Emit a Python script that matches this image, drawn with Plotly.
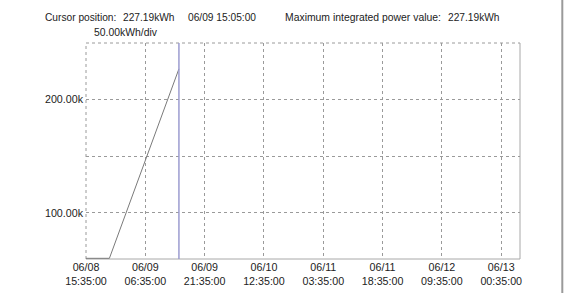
import plotly.graph_objects as go
import pandas as pd

# ---- data ----
times = ["2021-06-08 15:35:00", "2021-06-08 21:30:00", "2021-06-09 15:05:00"]
energy_kwh = [60000, 60000, 227190]
cursor_time = "2021-06-09 15:05:00"

tick_times = ["2021-06-08 15:35:00", "2021-06-09 06:35:00", "2021-06-09 21:35:00",
              "2021-06-10 12:35:00", "2021-06-11 03:35:00", "2021-06-11 18:35:00",
              "2021-06-12 09:35:00", "2021-06-13 00:35:00"]
tick_labels = ["06/08<br>15:35:00", "06/09<br>06:35:00", "06/09<br>21:35:00",
               "06/10<br>12:35:00", "06/11<br>03:35:00", "06/11<br>18:35:00",
               "06/12<br>09:35:00", "06/13<br>00:35:00"]
y_ticks = [100000, 150000, 200000]
y_tick_labels = ["100.00k", "", "200.00k"]
x_range = ["2021-06-08 15:35:00", "2021-06-13 05:20:00"]
y_range = [59400, 250000]

W, H = 565, 293
L, R, T, B = 86, 45, 43, 34
PW, PH = W - L - R, H - T - B

def px(x):
    return (x - L) / PW

def py(y):
    return (H - B - y) / PH

FONT = "Liberation Sans, Arial, sans-serif"
GRID = "#9a9a9a"
TXT = "#222"

fig = go.Figure()
fig.add_trace(go.Scatter(x=pd.to_datetime(times), y=energy_kwh, mode="lines",
                         line=dict(color="#7a7a7a", width=1), hoverinfo="skip",
                         showlegend=False, cliponaxis=False))

fig.update_xaxes(type="date", range=x_range, tickvals=tick_times, ticktext=tick_labels,
                 showgrid=True, gridcolor=GRID, griddash="3px,3px", gridwidth=1,
                 zeroline=False, showline=False, ticks="", automargin=False,
                 tickfont=dict(family=FONT, size=10.7, color=TXT))
fig.update_yaxes(range=y_range, tickvals=y_ticks, ticktext=y_tick_labels,
                 showgrid=True, gridcolor=GRID, griddash="3px,3px", gridwidth=1,
                 zeroline=False, showline=False, ticks="", ticklabelstandoff=2,
                 automargin=False,
                 tickfont=dict(family=FONT, size=10.7, color=TXT))

shapes = [
    dict(type="line", xref="paper", yref="paper", x0=0, x1=1, y0=1, y1=1, layer="below",
         line=dict(color=GRID, width=1, dash="3px,3px")),
    dict(type="line", xref="paper", yref="paper", x0=0, x1=0, y0=0, y1=1, layer="below",
         line=dict(color=GRID, width=1, dash="3px,3px")),
    dict(type="line", xref="paper", yref="paper", x0=1, x1=1, y0=0, y1=1, layer="below",
         line=dict(color="#a8a8a8", width=1)),
    dict(type="line", xref="paper", yref="paper", x0=0, x1=1, y0=0, y1=0, layer="below",
         line=dict(color="#a8a8a8", width=1)),
    dict(type="line", xref="x", yref="paper", x0=cursor_time, x1=cursor_time, y0=0, y1=1,
         line=dict(color="#9c9cd0", width=1.5)),
    dict(type="line", xref="paper", yref="paper", x0=px(562.3), x1=px(562.3),
         y0=py(H + 2), y1=py(-2), line=dict(color="#9a9a9a", width=2)),
]

ann = []
def text(s, x, y, size=10.5):
    ann.append(dict(text=s, xref="paper", yref="paper", x=px(x), y=py(y),
                    xanchor="left", yanchor="middle", showarrow=False,
                    font=dict(family=FONT, size=size, color=TXT)))

text("Cursor position:", 42.5, 17.5, 10.2)
text("227.19kWh", 120.5, 17.5, 10.2)
text("06/09 15:05:00", 186, 17.5, 10.2)
text("Maximum integrated power value:", 283, 17.5, 10.4)
text("227.19kWh", 446, 17.5, 10.2)
text("50.00kWh/div", 92, 32, 10.4)

fig.update_layout(width=W, height=H, margin=dict(l=L, r=R, t=T, b=B),
                  paper_bgcolor="white", plot_bgcolor="white",
                  shapes=shapes, annotations=ann, showlegend=False)

fig.write_html("out.html")
